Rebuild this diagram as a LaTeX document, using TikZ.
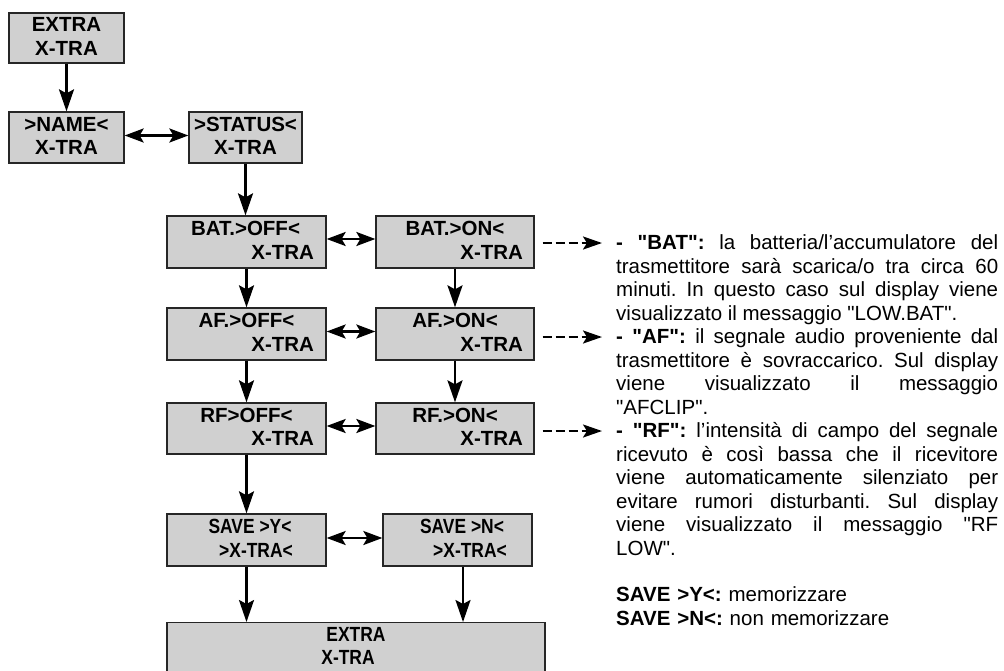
\documentclass[tikz,border=0pt]{standalone}
\usepackage{fontspec}
\setmainfont{Liberation Sans}[Ligatures=TeXOff]
\usepackage{graphicx}
\usetikzlibrary{arrows.meta,calc}
\definecolor{boxgray}{RGB}{208,208,208}
\newcommand\boxfont{\fontsize{20.5}{23.5}\selectfont\bfseries}
\newcommand\txtfont{\fontsize{20.5}{23.5}\selectfont\frenchspacing\setlength\parindent{0pt}\hyphenpenalty=10000\exhyphenpenalty=10000\tolerance=10000}
\newcommand\lnC[3]{\makebox[#1]{\hspace*{#2}#3}}
\newcommand\lnR[3]{\makebox[#1][r]{#3\hspace*{#2}}}
\newcommand\bt[3]{\parbox{#1}{#2\\#3\rule[-3.5pt]{0pt}{0pt}}}
\newcommand\cnd[1]{\scalebox{0.85}[1]{#1}}
\tikzset{
  bx/.style={draw=black!85, line width=1.3pt, fill=boxgray, inner sep=0pt, font=\boxfont},
  arr/.style={line width=2.4pt, -{Stealth[length=22pt,width=15pt,inset=4pt]}},
  darr/.style={line width=2.4pt, {Stealth[length=19pt,width=14pt,inset=4pt]}-{Stealth[length=19pt,width=14pt,inset=4pt]}},
  dasharr/.style={line width=2.4pt, dash pattern=on 9pt off 4pt, -{Stealth[length=19pt,width=13pt,inset=4pt]}},
  txt/.style={font=\txtfont, text width=382pt, inner sep=0pt, anchor=north west}
}
\begin{document}
\begin{tikzpicture}[x=1pt,y=-1pt]
\useasboundingbox (0,0) rectangle (1004,670);
\clip (0,0) rectangle (1004,670);

% boxes
\node[bx, minimum width=115pt, minimum height=50pt] (extra) at (66.5,38)
  {\bt{115pt}{\lnC{115pt}{0pt}{EXTRA}}{\lnC{115pt}{0pt}{X-TRA}}};
\node[bx, minimum width=115pt, minimum height=51pt] (name) at (66.5,137.5)
  {\bt{115pt}{\lnC{115pt}{0pt}{>NAME<}}{\lnC{115pt}{0pt}{X-TRA}}};
\node[bx, minimum width=113pt, minimum height=51pt] (status) at (245.5,137.5)
  {\bt{113pt}{\lnC{113pt}{0pt}{>STATUS<}}{\lnC{113pt}{0pt}{X-TRA}}};

\node[bx, minimum width=159pt, minimum height=52pt] (batoff) at (246.5,242)
  {\bt{159pt}{\lnC{159pt}{-2pt}{BAT.>OFF<}}{\lnR{159pt}{12pt}{X-TRA}}};
\node[bx, minimum width=158pt, minimum height=52pt] (baton) at (455,242)
  {\bt{158pt}{\lnC{158pt}{0pt}{BAT.>ON<}}{\lnR{158pt}{11pt}{X-TRA}}};
\node[bx, minimum width=159pt, minimum height=52pt] (afoff) at (246.5,334)
  {\bt{159pt}{\lnC{159pt}{0pt}{AF.>OFF<}}{\lnR{159pt}{12pt}{X-TRA}}};
\node[bx, minimum width=158pt, minimum height=52pt] (afon) at (455,334)
  {\bt{158pt}{\lnC{158pt}{0pt}{AF.>ON<}}{\lnR{158pt}{11pt}{X-TRA}}};
\node[bx, minimum width=159pt, minimum height=51pt] (rfoff) at (246.5,428.5)
  {\bt{159pt}{\lnC{159pt}{0pt}{RF>OFF<}}{\lnR{159pt}{12pt}{X-TRA}}};
\node[bx, minimum width=158pt, minimum height=51pt] (rfon) at (455,428.5)
  {\bt{158pt}{\lnC{158pt}{0pt}{RF.>ON<}}{\lnR{158pt}{11pt}{X-TRA}}};

\node[bx, minimum width=159pt, minimum height=52pt] (savy) at (246.5,540)
  {\bt{159pt}{\lnC{159pt}{7pt}{\cnd{SAVE >Y<}}}{\lnC{159pt}{19pt}{\cnd{>X-TRA<}}}};
\node[bx, minimum width=149pt, minimum height=52pt] (savn) at (457.5,540)
  {\bt{149pt}{\lnC{149pt}{9pt}{\cnd{SAVE >N<}}}{\lnC{149pt}{25pt}{\cnd{>X-TRA<}}}};

\node[bx, minimum width=378pt, minimum height=68pt, anchor=north] (bot) at (356,622)
  {\parbox{378pt}{\lnC{378pt}{0pt}{\cnd{EXTRA}}\\\lnC{378pt}{-16pt}{\cnd{X-TRA}}\rule[-21pt]{0pt}{0pt}}};

% vertical arrows
\draw[arr] (extra.south) -- (name.north);
\draw[arr] (status.south) -- (status.south |- batoff.north);
\draw[arr] (batoff.south) -- (afoff.north);
\draw[arr] (afoff.south) -- (rfoff.north);
\draw[arr] (rfoff.south) -- (savy.north);
\draw[arr] (baton.south) -- (afon.north);
\draw[arr] (afon.south) -- (rfon.north);
\draw[arr] (savy.south) -- (savy.south |- bot.north);
\draw[arr] ($(savn.south)+(5.5,0)$) -- ($(savn.south |- bot.north)+(5.5,0)$);

% double arrows
\draw[darr] ([yshift=2pt]name.east) -- ([yshift=2pt]status.west);
\draw[darr] ([yshift=3pt]batoff.east) -- ([yshift=3pt]baton.west);
\draw[darr] ([yshift=2.5pt]afoff.east) -- ([yshift=2.5pt]afon.west);
\draw[darr] ([yshift=2.5pt]rfoff.east) -- ([yshift=2.5pt]rfon.west);
\draw[darr] ([yshift=2pt]savy.east) -- ([yshift=2pt]savn.west);

% description text
\node[txt, align=justify] (desc) at (616,233) {\strut{\bfseries - "BAT":} la batteria/l’accumulatore del\linebreak
trasmettitore sarà scarica/o tra circa 60\linebreak
minuti. In questo caso sul display viene\linebreak
visualizzato il messaggio "LOW.BAT".\par
{\bfseries - "AF":} il segnale audio proveniente dal\linebreak
trasmettitore è sovraccarico. Sul display\linebreak
viene visualizzato il messaggio\linebreak
"AFCLIP".\par
{\bfseries - "RF":} l’intensità di campo del segnale\linebreak
ricevuto è così bassa che il ricevitore\linebreak
viene automaticamente silenziato per\linebreak
evitare rumori disturbanti. Sul display\linebreak
viene visualizzato il messaggio "RF\linebreak
LOW".};

\node[txt, align=left] (savetxt) at (616,585) {\strut{\bfseries SAVE >Y<:} memorizzare\\
{\bfseries SAVE >N<:} non memorizzare};

% dashed arrows
\coordinate (tbat) at (602,243);
\coordinate (taf) at (602,337);
\coordinate (trf) at (602,431);
\draw[dasharr] ($(baton.east |- tbat)+(8,0)$) -- (tbat);
\draw[dasharr] ($(afon.east |- taf)+(8,0)$) -- (taf);
\draw[dasharr] ($(rfon.east |- trf)+(8,0)$) -- (trf);
\end{tikzpicture}
\end{document}
